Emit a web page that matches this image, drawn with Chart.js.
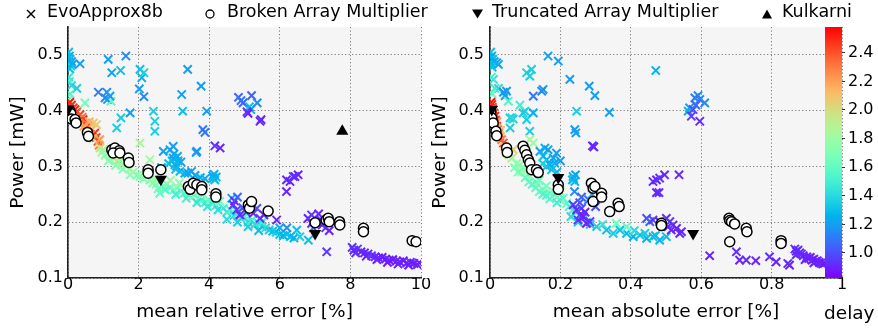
<!DOCTYPE html>
<html><head><meta charset="utf-8">
<script src="https://cdn.jsdelivr.net/npm/chart.js@4/dist/chart.umd.min.js"></script>
<style>
html,body{margin:0;padding:0;background:#fff;width:878px;height:329px;overflow:hidden;}
#wrap{position:relative;width:878px;height:329px;}
canvas{position:absolute;top:0;}
#c1{left:0;}
#c2{left:424px;}
#c3{left:825px;}
#ov{position:absolute;left:0;top:0;pointer-events:none;}
#ov text{font-family:"DejaVu Sans",sans-serif;fill:#000;}
</style></head>
<body><div id="wrap">
<canvas id="c1" width="440" height="329"></canvas>
<canvas id="c2" width="454" height="329"></canvas>
<canvas id="c3" width="53" height="329"></canvas>
<svg id="ov" width="878" height="329">
  <line x1="27" y1="10" x2="35" y2="18" stroke="#000" stroke-width="1.5"/>
  <line x1="27" y1="18" x2="35" y2="10" stroke="#000" stroke-width="1.5"/>
  <text x="47" y="17.3" font-size="17.5">EvoApprox8b</text>
  <circle cx="210" cy="14" r="4" fill="#fff" stroke="#000" stroke-width="1.3"/>
  <text x="227" y="17.3" font-size="17.5">Broken Array Multiplier</text>
  <polygon points="472,9.5 483,9.5 477.5,18.5" fill="#000"/>
  <text x="492" y="17.3" font-size="17.5">Truncated Array Multiplier</text>
  <polygon points="762,18.5 772,18.5 767,9.5" fill="#000"/>
  <text x="782" y="17.3" font-size="17.5">Kulkarni</text>
  <text x="824" y="319" font-size="18.5">delay</text>
</svg>
</div>
<script>
// ---------- data: [error, power (mW), delay] ----------
const mreTicks = [0, 2, 4, 6, 8, 10];
const maeTicks = [0, 0.2, 0.4, 0.6, 0.8, 1.0];
const maeTickLabels = ["0", "0.2", "0.4", "0.6", "0.8", "1"];
const powerTicks = [0.1, 0.2, 0.3, 0.4, 0.5];
const delayTicks = [1.0, 1.2, 1.4, 1.6, 1.8, 2.0, 2.2, 2.4];
const delayRange = [0.825, 2.58];

// EvoApprox8b, mean relative error [%]
const evoMRE = [
 [0.02,0.505,1.3],[0.04,0.498,1.25],[0.06,0.492,1.3],[0.1,0.488,1.2],[0.03,0.485,1.28],[0.08,0.48,1.35],[0.12,0.483,1.22],[0.05,0.475,1.3],[0.34,0.484,1.2],
 [0.02,0.46,1.45],[0.04,0.452,1.5],[0.1,0.445,1.4],[0.25,0.44,1.35],[0.06,0.43,1.55],[0.02,0.42,1.6],[0.48,0.414,1.65],
 [0.05,0.415,2.55],[0.1,0.41,2.5],[0.15,0.405,2.45],[0.2,0.402,2.5],[0.25,0.398,2.4],[0.34,0.393,2.45],[0.4,0.388,2.35],[0.43,0.384,2.5],[0.5,0.378,2.3],[0.55,0.372,2.45],[0.6,0.37,2.2],[0.67,0.366,2.4],[0.72,0.378,2.1],[0.76,0.36,2.5],[0.81,0.375,2.05],[0.8,0.352,2.45],[0.85,0.345,2.4],[0.88,0.338,2.3],[0.6,0.38,2.15],[0.7,0.35,1.85],
 [0.3,0.385,2.3],[0.45,0.372,2.2],[0.65,0.357,2.3],[0.9,0.348,2.2],
 [0.91,0.333,2.0],[1.0,0.33,1.9],[1.1,0.324,1.95],[1.2,0.318,1.85],[1.3,0.315,1.8],[1.4,0.31,2.0],[1.5,0.305,1.85],[1.57,0.315,1.75],[1.65,0.3,1.8],[1.76,0.285,1.72],[1.85,0.29,1.78],[1.95,0.284,1.7],[2.04,0.282,1.75],[2.15,0.278,1.72],[2.32,0.276,1.7],[2.4,0.27,1.75],[2.5,0.268,1.7],[2.04,0.342,1.85],[2.32,0.312,1.8],[0.95,0.325,1.8],[1.05,0.32,1.75],
 [1.15,0.31,1.7],[1.35,0.302,1.72],[1.55,0.295,1.7],[1.75,0.295,1.8],[2.2,0.285,1.78],[2.45,0.278,1.82],
 [2.6,0.272,1.7],[2.7,0.265,1.65],[2.8,0.268,1.7],[2.9,0.262,1.6],[3.0,0.258,1.65],[3.1,0.262,1.7],[3.2,0.255,1.6],[3.3,0.252,1.55],[3.4,0.25,1.65],[3.5,0.245,1.6],[3.6,0.248,1.7],[3.7,0.242,1.55],[3.8,0.24,1.6],[3.9,0.236,1.5],[4.0,0.238,1.65],[4.1,0.233,1.55],[4.2,0.23,1.5],[2.75,0.258,1.55],[3.05,0.25,1.5],[3.35,0.243,1.5],[3.65,0.235,1.45],[3.95,0.228,1.45],[4.25,0.222,1.4],[2.55,0.26,1.65],[2.9,0.275,1.8],[3.5,0.258,1.75],
 [3.15,0.27,1.75],[3.8,0.25,1.7],[4.3,0.238,1.65],[2.6,0.252,1.6],
 [4.4,0.225,1.5],[4.5,0.218,1.45],[4.6,0.222,1.55],[4.7,0.212,1.4],[4.8,0.215,1.5],[4.9,0.207,1.45],[5.0,0.21,1.55],[5.1,0.2,1.4],[5.2,0.203,1.5],[5.3,0.196,1.4],[5.4,0.198,1.45],[5.5,0.192,1.35],[5.6,0.19,1.4],[5.7,0.186,1.35],[5.8,0.184,1.3],[5.9,0.182,1.35],[6.0,0.178,1.3],[6.1,0.176,1.25],[6.2,0.178,1.3],[6.3,0.174,1.3],[6.4,0.172,1.25],[6.48,0.186,1.3],[6.57,0.174,1.35],[6.81,0.168,1.3],[4.5,0.205,1.4],[4.8,0.2,1.35],[5.1,0.192,1.35],[5.4,0.185,1.3],[5.0,0.22,1.6],[5.5,0.2,1.5],[4.64,0.243,1.2],[6.0,0.19,1.25],[6.2,0.19,1.15],
 [4.68,0.231,0.95],[4.72,0.238,0.9],[4.78,0.222,0.95],[4.87,0.213,0.9],[4.95,0.226,1.0],[5.05,0.218,0.95],[5.25,0.216,0.9],[5.35,0.225,1.0],[5.44,0.207,0.95],[5.55,0.213,0.9],[5.91,0.204,0.9],[4.8,0.245,1.05],[5.15,0.23,1.0],
 [6.8,0.207,0.9],[6.9,0.213,0.95],[7.05,0.2,0.9],[7.15,0.205,0.95],[7.2,0.195,0.9],[7.3,0.19,0.95],[7.4,0.185,0.9],[6.95,0.19,1.0],[7.1,0.215,0.9],[7.33,0.147,0.95],[6.9,0.198,0.92],
 [8.05,0.155,0.95],[8.1,0.15,0.9],[8.2,0.152,0.95],[8.3,0.147,0.9],[8.4,0.145,0.92],[8.5,0.143,0.9],[8.6,0.14,0.95],[8.7,0.138,0.9],[8.8,0.136,0.92],[8.9,0.137,0.88],[9.0,0.134,0.9],[9.1,0.132,0.92],[9.2,0.133,0.88],[9.3,0.13,0.9],[9.4,0.129,0.9],[9.5,0.131,0.88],[9.6,0.127,0.9],[9.7,0.128,0.92],[9.8,0.126,0.88],[9.9,0.124,0.9],[9.95,0.127,0.9],[8.15,0.145,0.92],[8.45,0.139,0.9],[8.75,0.133,0.9],[9.05,0.128,0.88],[9.35,0.125,0.9],[9.65,0.123,0.88],
 [2.7,0.327,1.2],[2.89,0.33,1.25],[2.98,0.315,1.2],[3.03,0.303,1.25],[3.08,0.3,1.2],[3.17,0.291,1.3],[3.31,0.288,1.25],[3.5,0.291,1.2],[3.65,0.327,1.15],[2.95,0.31,1.28],[3.0,0.322,1.22],[3.1,0.318,1.25],[3.2,0.308,1.2],[3.05,0.295,1.3],[2.85,0.305,1.3],[3.12,0.31,1.27],
 [2.65,0.298,1.25],[3.4,0.288,1.22],[3.6,0.284,1.2],[3.75,0.28,1.25],[3.88,0.278,1.22],
 [4.12,0.279,1.25],[4.16,0.276,1.3],[4.1,0.283,1.22],[4.2,0.281,1.28],[4.14,0.286,1.25],[4.21,0.249,1.2],
 [1.14,0.492,1.2],[1.24,0.468,1.2],[1.49,0.472,1.3],[1.64,0.498,1.15],[0.86,0.433,1.1],[1.1,0.433,1.15],[1.12,0.42,1.2],[1.22,0.417,1.6],[1.05,0.423,1.15],[1.19,0.426,1.2],[1.5,0.387,1.35],[1.38,0.369,1.35],[1.76,0.396,1.2],[2.04,0.474,1.3],[2.09,0.459,1.25],[2.15,0.468,1.35],[2.15,0.425,1.15],[2.02,0.439,1.2],[2.42,0.399,1.35],[2.46,0.381,1.35],[2.46,0.363,1.35],[3.22,0.429,1.2],[3.39,0.474,1.2],[3.25,0.399,1.3],[3.77,0.444,1.2],[3.93,0.399,1.2],[3.82,0.366,1.1],[3.88,0.361,1.1],[3.63,0.325,1.2],[4.16,0.337,0.95],[4.31,0.333,0.9],[2.98,0.336,1.2],
 [4.83,0.424,1.05],[4.9,0.418,1.1],[4.96,0.414,1.05],[5.2,0.427,1.05],[5.14,0.407,1.3],[5.18,0.402,1.25],[5.36,0.414,1.15],[5.07,0.398,0.95],[5.1,0.395,0.9],[5.47,0.384,0.92],[5.44,0.381,0.9],
 [6.19,0.276,0.92],[6.29,0.273,0.9],[6.38,0.282,0.95],[6.52,0.285,0.9],[6.43,0.282,0.92],[6.19,0.255,0.9]
];
// Broken Array Multiplier, MRE
const bamMRE = [
 [0.06,0.399],[0.08,0.395],[0.1,0.385],[0.2,0.384],[0.23,0.378],[0.55,0.361],[0.58,0.354],[1.24,0.33],[1.33,0.333],[1.45,0.328],[1.28,0.324],[1.47,0.324],[1.71,0.315],[1.73,0.307],[2.27,0.294],[2.27,0.288],[2.63,0.294],[3.41,0.264],[3.46,0.259],[3.55,0.27],[3.65,0.267],[3.79,0.264],[3.79,0.258],[4.19,0.251],[4.19,0.245],[5.11,0.231],[5.14,0.225],[5.2,0.237],[5.67,0.22],[7.0,0.199],[7.31,0.204],[7.37,0.207],[7.4,0.201],[7.69,0.201],[7.7,0.195],[8.37,0.189],[8.37,0.183],[9.75,0.167],[9.86,0.165]
];
const tamMRE = [[0.01,0.403],[2.63,0.277],[7.0,0.18]];
const kulMRE = [[7.77,0.363]];

// EvoApprox8b, mean absolute error [%]
const evoMAE = [
 [0.002,0.505,1.3],[0.005,0.498,1.25],[0.008,0.492,1.3],[0.012,0.488,1.22],[0.004,0.485,1.28],[0.019,0.486,1.2],[0.024,0.483,1.25],[0.006,0.478,1.3],
 [0.01,0.456,1.45],[0.014,0.44,1.5],[0.024,0.44,1.4],[0.004,0.46,1.5],[0.038,0.433,1.15],[0.047,0.435,1.2],[0.043,0.427,1.2],[0.052,0.417,1.55],[0.006,0.43,1.6],
 [0.057,0.387,1.35],[0.066,0.385,1.35],[0.057,0.369,1.35],[0.104,0.468,1.35],[0.118,0.474,1.35],[0.113,0.462,1.35],[0.099,0.399,1.35],[0.104,0.384,1.35],[0.113,0.363,1.35],[0.123,0.426,1.1],[0.123,0.396,1.25],[0.151,0.438,1.2],[0.165,0.498,1.2],[0.194,0.489,1.2],[0.227,0.456,1.2],[0.246,0.399,1.35],[0.241,0.366,1.2],[0.244,0.36,1.2],[0.282,0.444,1.2],[0.298,0.427,1.2],[0.339,0.397,1.2],[0.291,0.337,0.92],[0.295,0.335,0.9],[0.147,0.435,1.15],[0.094,0.396,1.35],[0.062,0.387,1.4],[0.085,0.41,1.5],
 [0.003,0.415,2.55],[0.005,0.411,2.5],[0.007,0.406,2.45],[0.009,0.402,2.5],[0.011,0.396,2.4],[0.014,0.39,2.5],[0.016,0.383,2.45],[0.019,0.372,2.5],[0.022,0.366,2.35],[0.025,0.36,2.45],[0.028,0.354,2.4],[0.033,0.348,2.3],[0.038,0.342,2.4],[0.03,0.365,2.1],[0.02,0.38,2.2],
 [0.047,0.324,2.0],[0.062,0.315,1.9],[0.066,0.33,2.05],[0.042,0.335,2.1],[0.055,0.32,1.85],
 [0.076,0.305,1.75],[0.085,0.303,1.8],[0.095,0.298,1.7],[0.104,0.294,1.75],[0.113,0.282,1.7],[0.12,0.288,1.8],[0.132,0.27,1.7],[0.14,0.275,1.65],[0.151,0.258,1.7],[0.16,0.265,1.65],[0.17,0.252,1.6],[0.18,0.255,1.7],[0.19,0.245,1.6],[0.199,0.24,1.65],[0.208,0.243,1.55],[0.218,0.234,1.6],[0.1,0.28,1.6],[0.12,0.268,1.55],[0.14,0.255,1.6],[0.16,0.248,1.55],[0.113,0.348,1.85],[0.123,0.342,1.8],[0.09,0.29,1.8],[0.2,0.255,1.8],
 [0.07,0.298,1.7],[0.08,0.29,1.65],[0.11,0.272,1.6],[0.13,0.262,1.58],[0.15,0.25,1.55],[0.17,0.242,1.55],[0.19,0.235,1.5],
 [0.225,0.228,1.55],[0.235,0.222,1.5],[0.245,0.218,1.45],[0.255,0.212,1.5],[0.265,0.206,1.4],[0.275,0.2,1.45],[0.285,0.196,1.35],[0.23,0.21,1.4],[0.25,0.2,1.35],
 [0.236,0.231,0.95],[0.246,0.222,0.9],[0.255,0.213,0.95],[0.265,0.21,0.9],[0.25,0.204,0.92],[0.274,0.198,0.9],[0.284,0.201,0.95],[0.26,0.225,1.0],[0.27,0.218,0.9],[0.255,0.235,1.0],
 [0.303,0.192,1.35],[0.331,0.186,1.3],[0.35,0.18,1.35],[0.369,0.186,1.3],[0.388,0.18,1.3],[0.407,0.174,1.25],[0.426,0.177,1.3],[0.445,0.171,1.25],[0.463,0.174,1.3],[0.482,0.168,1.25],[0.501,0.174,1.3],[0.359,0.198,1.65],[0.388,0.192,1.6],[0.32,0.196,1.45],[0.41,0.185,1.4],[0.44,0.18,1.35],[0.47,0.176,1.3],
 [0.445,0.207,1.0],[0.454,0.201,1.05],[0.463,0.204,0.95],[0.482,0.201,0.9],[0.501,0.207,0.92],[0.506,0.192,0.9],[0.511,0.201,0.95],[0.515,0.186,0.9],[0.52,0.195,0.92],[0.53,0.189,0.9],[0.539,0.18,0.92],[0.544,0.183,0.9],
 [0.463,0.273,0.92],[0.473,0.276,0.9],[0.482,0.279,0.95],[0.496,0.285,0.9],[0.537,0.285,0.92],[0.473,0.253,0.9],[0.48,0.253,0.92],
 [0.582,0.423,1.1],[0.591,0.427,1.15],[0.596,0.42,1.1],[0.61,0.414,1.15],[0.567,0.405,1.2],[0.563,0.399,1.25],[0.577,0.402,1.0],[0.572,0.39,0.95],[0.596,0.381,0.92],[0.585,0.41,1.05],[0.471,0.472,1.25],
 [0.624,0.14,0.9],[0.7,0.147,0.92],[0.709,0.132,0.9],[0.728,0.132,0.92],[0.755,0.131,0.9],[0.794,0.138,0.92],[0.813,0.129,0.9],[0.846,0.126,0.92],[0.851,0.123,0.9],
 [0.866,0.152,0.95],[0.87,0.148,0.9],[0.875,0.15,0.92],[0.88,0.145,0.9],[0.885,0.143,0.95],[0.89,0.14,0.9],[0.9,0.138,0.92],[0.905,0.135,0.9],[0.91,0.137,0.88],[0.915,0.132,0.9],[0.92,0.134,0.92],[0.925,0.13,0.9],[0.93,0.131,0.88],[0.935,0.128,0.9],[0.94,0.127,0.92],[0.945,0.125,0.9],[0.95,0.126,0.88],[0.87,0.142,0.92],[0.895,0.133,0.9],[0.92,0.127,0.9],
 [0.142,0.327,1.2],[0.156,0.333,1.25],[0.165,0.33,1.2],[0.151,0.318,1.3],[0.161,0.312,1.25],[0.17,0.303,1.2],[0.184,0.306,1.25],[0.189,0.324,1.2],[0.175,0.294,1.3],[0.16,0.3,1.3],[0.18,0.315,1.22],[0.2,0.31,1.2],[0.15,0.305,1.35],[0.19,0.29,1.28],
 [0.236,0.282,1.25],[0.238,0.278,1.3],[0.241,0.273,1.25],[0.234,0.276,1.28],[0.243,0.285,1.22],
 [0.24,0.255,1.15],[0.26,0.245,1.05],[0.28,0.24,1.1],[0.3,0.228,1.0],[0.29,0.25,1.2]
];
const bamMAE = [
 [0.002,0.399],[0.005,0.387],[0.009,0.378],[0.017,0.363],[0.019,0.355],[0.047,0.333],[0.049,0.325],[0.094,0.336],[0.099,0.329],[0.104,0.321],[0.109,0.312],[0.113,0.306],[0.118,0.294],[0.132,0.294],[0.137,0.289],[0.194,0.267],[0.194,0.259],[0.288,0.27],[0.293,0.261],[0.298,0.264],[0.293,0.237],[0.317,0.252],[0.317,0.245],[0.34,0.219],[0.364,0.234],[0.367,0.228],[0.487,0.198],[0.487,0.194],[0.679,0.207],[0.681,0.203],[0.686,0.201],[0.695,0.197],[0.728,0.189],[0.73,0.183],[0.681,0.165],[0.827,0.167],[0.827,0.162]
];
const tamMAE = [[0.005,0.402],[0.194,0.28],[0.577,0.18]];

// ---------- helpers ----------
function rainbow(d) {
  let t = (d - delayRange[0]) / (delayRange[1] - delayRange[0]);
  t = Math.max(0, Math.min(1, t));
  const r = Math.min(1, Math.abs(2 * t - 0.5));
  const g = Math.sin(Math.PI * t);
  const b = Math.cos(Math.PI * t / 2);
  return `rgb(${Math.round(r*255)},${Math.round(g*255)},${Math.round(b*255)})`;
}
const FONT = "'DejaVu Sans', sans-serif";
const bgPlugin = {
  id: 'bg',
  beforeDraw(chart) {
    const {ctx, chartArea: a} = chart;
    ctx.save(); ctx.fillStyle = '#f5f5f5';
    ctx.fillRect(a.left, a.top, a.right - a.left, a.bottom - a.top);
    ctx.restore();
  }
};
const toPts = arr => arr.map(p => ({x: p[0], y: p[1], d: p[2]}));

function makeScatter(id, cfg) {
  const evoColor = ctx => (ctx.raw && ctx.raw.d !== undefined) ? rainbow(ctx.raw.d) : '#000';
  const datasets = [
    {label: 'EvoApprox8b', data: toPts(cfg.evo), pointStyle: 'crossRot', radius: 5.8, pointBorderWidth: 2,
     borderColor: evoColor, pointBorderColor: evoColor, backgroundColor: evoColor, pointBackgroundColor: evoColor, order: 3},
    {label: 'Broken Array Multiplier', data: toPts(cfg.bam), pointStyle: 'circle', radius: 5, pointBorderWidth: 1.5,
     borderColor: '#000', pointBorderColor: '#000', backgroundColor: '#fff', pointBackgroundColor: '#fff', order: 2},
    {label: 'Truncated Array Multiplier', data: toPts(cfg.tam), pointStyle: 'triangle', rotation: 180, radius: 7, pointBorderWidth: 0,
     borderColor: '#000', pointBorderColor: '#000', backgroundColor: '#000', pointBackgroundColor: '#000', order: 1},
    {label: 'Kulkarni', data: toPts(cfg.kul), pointStyle: 'triangle', rotation: 0, radius: 7, pointBorderWidth: 0,
     borderColor: '#000', pointBorderColor: '#000', backgroundColor: '#000', pointBackgroundColor: '#000', order: 0}
  ];
  return new Chart(document.getElementById(id), {
    type: 'scatter',
    data: {datasets},
    plugins: [bgPlugin],
    options: {
      responsive: false, animation: false, events: [],
      layout: {padding: {left: 0, top: 27, right: cfg.padRight, bottom: 0}},
      plugins: {legend: {display: false}, tooltip: {enabled: false}},
      scales: {
        x: {
          type: 'linear', min: cfg.xMin, max: cfg.xMax,
          afterBuildTicks: s => { s.ticks = cfg.xTicks.map(v => ({value: v})); },
          afterFit: s => { s.height = 51; },
          ticks: {font: {family: FONT, size: 16}, color: '#000', padding: -3, maxRotation: 0, autoSkip: false,
                  callback: (v, i) => cfg.xLabels[i]},
          grid: {color: '#7a7a7a', lineWidth: 1, drawTicks: false},
          border: {display: true, color: '#222', width: 1.6, dash: [1.2, 2.3]},
          title: {display: true, text: cfg.xTitle, font: {family: FONT, size: 18.5}, color: '#000', padding: {top: 0, bottom: 5.5}}
        },
        y: {
          type: 'linear', min: 0.1, max: 0.55,
          afterBuildTicks: s => { s.ticks = powerTicks.map(v => ({value: v})); },
          afterFit: s => { s.width = cfg.yWidth; },
          ticks: {font: {family: FONT, size: 16}, color: '#000', padding: cfg.yTickPad, autoSkip: false,
                  callback: v => v.toFixed(1)},
          grid: {color: '#7a7a7a', lineWidth: 1, drawTicks: false},
          border: {display: true, color: '#222', width: 1.6, dash: [1.2, 2.3]},
          title: {display: true, text: 'Power [mW]', font: {family: FONT, size: 18.5}, color: '#000', padding: {top: cfg.yTitlePad, bottom: 0}}
        }
      }
    }
  });
}

makeScatter('c1', {evo: evoMRE, bam: bamMRE, tam: tamMRE, kul: kulMRE, xMin: 0, xMax: 10,
  xTicks: mreTicks, xLabels: mreTicks.map(String), xTitle: 'mean relative error [%]',
  padRight: 19, yWidth: 68, yTickPad: 5, yTitlePad: 7.4});
makeScatter('c2', {evo: evoMAE, bam: bamMAE, tam: tamMAE, kul: [], xMin: 0, xMax: 1,
  xTicks: maeTicks, xLabels: maeTickLabels, xTitle: 'mean absolute error [%]',
  padRight: 36, yWidth: 66, yTickPad: 6, yTitlePad: 4.9});

// ---------- colour bar ----------
new Chart(document.getElementById('c3'), {
  type: 'bar',
  data: {labels: ['delay'], datasets: [{
    data: [[delayRange[0], delayRange[1]]],
    barPercentage: 1, categoryPercentage: 1, borderWidth: 0,
    backgroundColor: ctx => {
      const ch = ctx.chart, a = ch.chartArea;
      if (!a) return '#8000ff';
      const g = ch.ctx.createLinearGradient(0, a.bottom, 0, a.top);
      for (let i = 0; i <= 40; i++) {
        const d = delayRange[0] + (delayRange[1] - delayRange[0]) * i / 40;
        g.addColorStop(i / 40, rainbow(d));
      }
      return g;
    }
  }]},
  options: {
    responsive: false, animation: false, events: [],
    layout: {padding: {left: 0, top: 27, right: 0, bottom: 51}},
    plugins: {legend: {display: false}, tooltip: {enabled: false}},
    scales: {
      x: {display: false},
      y: {
        position: 'right', min: delayRange[0], max: delayRange[1],
        afterBuildTicks: s => { s.ticks = delayTicks.map(v => ({value: v})); },
        afterFit: s => { s.width = 36; },
        ticks: {font: {family: FONT, size: 16}, color: '#000', padding: 3, autoSkip: false, callback: v => v.toFixed(1)},
        grid: {drawOnChartArea: false, drawTicks: true, tickLength: 3, tickColor: '#333', tickWidth: 1},
        border: {display: false}
      }
    }
  }
});
</script>
</body></html>
